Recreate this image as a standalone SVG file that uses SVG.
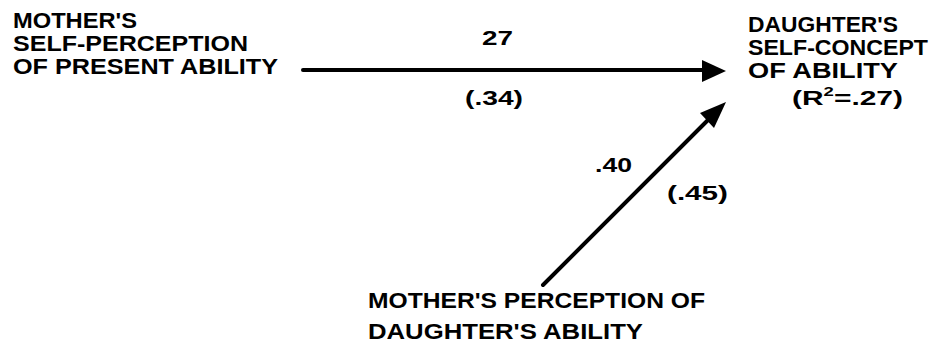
<svg xmlns="http://www.w3.org/2000/svg" width="938" height="350" viewBox="0 0 938 350">
<style>
text{font-family:"Liberation Sans",Arial,sans-serif;font-weight:bold;font-size:22px;fill:#000}
.num{font-size:21px}
.edge{stroke:#000;stroke-width:4;fill:none;stroke-linecap:round}
.head{fill:#000}
</style>
<rect width="938" height="350" fill="#fff"/>
<g id="connectors">
<line class="edge" x1="303" y1="70" x2="708" y2="70"/>
<polygon class="head" points="726,71 702,60 702,82"/>
<line class="edge" x1="543" y1="285" x2="712" y2="116"/>
<polygon class="head" points="726,102 700,113 714,128"/>
<text class="num" x="482" y="45" textLength="31" lengthAdjust="spacingAndGlyphs">27</text>
<text class="num" x="465" y="105" textLength="58" lengthAdjust="spacingAndGlyphs">(.34)</text>
<text class="num" x="595" y="172" textLength="37" lengthAdjust="spacingAndGlyphs">.40</text>
<text class="num" x="667" y="200" textLength="61" lengthAdjust="spacingAndGlyphs">(.45)</text>
</g>
<g id="node-mother-self">
<text x="13" y="28" textLength="124" lengthAdjust="spacingAndGlyphs">MOTHER'S</text>
<text x="13" y="51" textLength="235" lengthAdjust="spacingAndGlyphs">SELF-PERCEPTION</text>
<text x="13" y="74" textLength="265" lengthAdjust="spacingAndGlyphs">OF PRESENT ABILITY</text>
</g>
<g id="node-daughter">
<text x="748" y="32" textLength="150" lengthAdjust="spacingAndGlyphs">DAUGHTER'S</text>
<text x="748" y="55" textLength="180" lengthAdjust="spacingAndGlyphs">SELF-CONCEPT</text>
<text x="748" y="78" textLength="150" lengthAdjust="spacingAndGlyphs">OF ABILITY</text>
<text class="num" x="792" y="105" textLength="111" lengthAdjust="spacingAndGlyphs">(R<tspan font-size="13" dy="-9">2</tspan><tspan dy="9">=.27)</tspan></text>
</g>
<g id="node-mother-perception">
<text x="368" y="308" textLength="337" lengthAdjust="spacingAndGlyphs">MOTHER'S PERCEPTION OF</text>
<text x="368" y="339" textLength="275" lengthAdjust="spacingAndGlyphs">DAUGHTER'S ABILITY</text>
</g>
</svg>
